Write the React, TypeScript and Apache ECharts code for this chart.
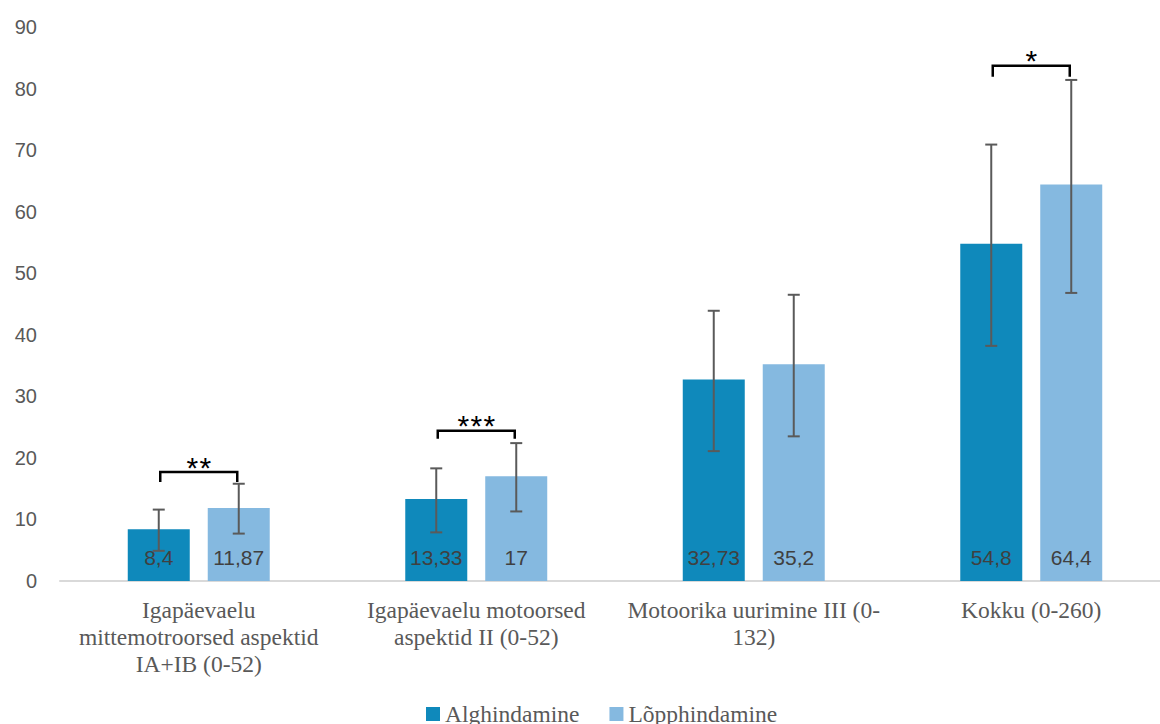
import React, { useEffect, useRef } from "react";
import * as echarts from "echarts";

const categories = [
  "Igapäevaelu\nmittemotroorsed aspektid\nIA+IB (0-52)",
  "Igapäevaelu motoorsed\naspektid II (0-52)",
  "Motoorika uurimine III (0-\n132)",
  "Kokku (0-260)",
];
const seriesNames = ["Alghindamine", "Lõpphindamine"];
const baselineValues = [8.4, 13.33, 32.73, 54.8];
const finalValues = [11.87, 17, 35.2, 64.4];
const baselineLow = [4.9, 7.9, 21.1, 38.2];
const baselineHigh = [11.6, 18.3, 43.9, 70.9];
const finalLow = [7.7, 11.3, 23.5, 46.8];
const finalHigh = [15.8, 22.4, 46.5, 81.4];
const sigCategories = [0, 1, 3];
const sigLabels = ["**", "***", "*"];
const sigTop = [17.7, 24.4, 83.7];
const sigEnd = [16.1, 23.1, 81.9];
const yMin = 0;
const yMax = 90;
const yStep = 10;

const DARK = "#0f89bb";
const LIGHT = "#85b9e0";
const GREY = "#595959";

const errRender = (offset: number) => (params: any, api: any) => {
  const cat = api.value(0);
  const lo = api.coord([cat, api.value(1)]);
  const hi = api.coord([cat, api.value(2)]);
  const x = lo[0] + offset;
  const style = { stroke: "#5a5a5a", lineWidth: 2 };
  return {
    type: "group",
    children: [
      { type: "line", shape: { x1: x, y1: lo[1], x2: x, y2: hi[1] }, style },
      { type: "line", shape: { x1: x - 6, y1: lo[1], x2: x + 6, y2: lo[1] }, style },
      { type: "line", shape: { x1: x - 6, y1: hi[1], x2: x + 6, y2: hi[1] }, style },
    ],
  };
};

const bracketRender = (params: any, api: any) => {
  const cat = api.value(0);
  const top = api.coord([cat, api.value(1)]);
  const end = api.coord([cat, api.value(2)]);
  const xl = top[0] - 38.5;
  const xr = top[0] + 38.5;
  const stars = sigLabels[params.dataIndex].split("");
  const step = 13;
  const x0 = top[0] - ((stars.length - 1) * step) / 2;
  return {
    type: "group",
    children: [
      {
        type: "polyline",
        shape: { points: [[xl, end[1]], [xl, top[1]], [xr, top[1]], [xr, end[1]]] },
        style: { stroke: "#000", lineWidth: 2.5, fill: null },
      },
      ...stars.map((s, i) => ({
        type: "text",
        x: x0 + i * step,
        y: top[1] - 5,
        style: {
          text: s,
          fill: "#000",
          fontSize: 30,
          fontFamily: "Liberation Sans",
          align: "center",
          verticalAlign: "middle",
          textAlign: "center",
          textVerticalAlign: "middle",
        },
      })),
    ],
  };
};

const fmt = (p: any) => String(p.value).replace(".", ",");

export default function App() {
  const ref = useRef<HTMLDivElement>(null);
  useEffect(() => {
    if (!ref.current) return;
    const chart = echarts.init(ref.current, null, { renderer: "svg" });
    const barLabel = {
      show: true,
      position: "insideBottom",
      distance: 13,
      formatter: fmt,
      fontFamily: "Liberation Sans",
      fontSize: 21,
      color: "#404040",
    };
    chart.setOption({
      animation: false,
      backgroundColor: "#fff",
      grid: { left: 60, top: 27, bottom: 143, width: 1110 },
      legend: {
        data: seriesNames,
        top: 697,
        left: 421,
        itemWidth: 14,
        itemHeight: 14,
        itemGap: 30,
        icon: "rect",
        textStyle: { fontFamily: "Liberation Serif", fontSize: 23.5, color: GREY },
      },
      xAxis: {
        type: "category",
        data: categories,
        axisLine: { lineStyle: { color: "#d9d9d9", width: 2 } },
        axisTick: { show: false },
        axisLabel: {
          interval: 0,
          margin: 15,
          fontFamily: "Liberation Serif",
          fontSize: 23.5,
          lineHeight: 27,
          color: GREY,
          align: "center",
        },
      },
      yAxis: {
        type: "value",
        min: yMin,
        max: yMax,
        interval: yStep,
        splitLine: { show: false },
        axisLine: { show: false },
        axisTick: { show: false },
        axisLabel: { margin: 23, fontFamily: "Liberation Sans", fontSize: 20, color: GREY },
      },
      series: [
        {
          name: seriesNames[0],
          type: "bar",
          data: baselineValues,
          barWidth: 62,
          barGap: "29%",
          itemStyle: { color: DARK },
          label: barLabel,
        },
        {
          name: seriesNames[1],
          type: "bar",
          data: finalValues,
          barWidth: 62,
          barGap: "29%",
          itemStyle: { color: LIGHT },
          label: barLabel,
        },
        {
          type: "custom",
          renderItem: errRender(-40),
          encode: { x: 0, y: [1, 2] },
          data: categories.map((_, i) => [i, baselineLow[i], baselineHigh[i]]),
          z: 5,
          silent: true,
        },
        {
          type: "custom",
          renderItem: errRender(40),
          encode: { x: 0, y: [1, 2] },
          data: categories.map((_, i) => [i, finalLow[i], finalHigh[i]]),
          z: 5,
          silent: true,
        },
        {
          type: "custom",
          renderItem: bracketRender,
          encode: { x: 0, y: [1, 2] },
          data: sigCategories.map((c, i) => [c, sigTop[i], sigEnd[i]]),
          z: 6,
          silent: true,
        },
      ],
    });
    return () => chart.dispose();
  }, []);
  return (
    <div
      ref={ref}
      style={{ position: "fixed", left: 0, top: 0, width: 1180, height: 724 }}
    />
  );
}
